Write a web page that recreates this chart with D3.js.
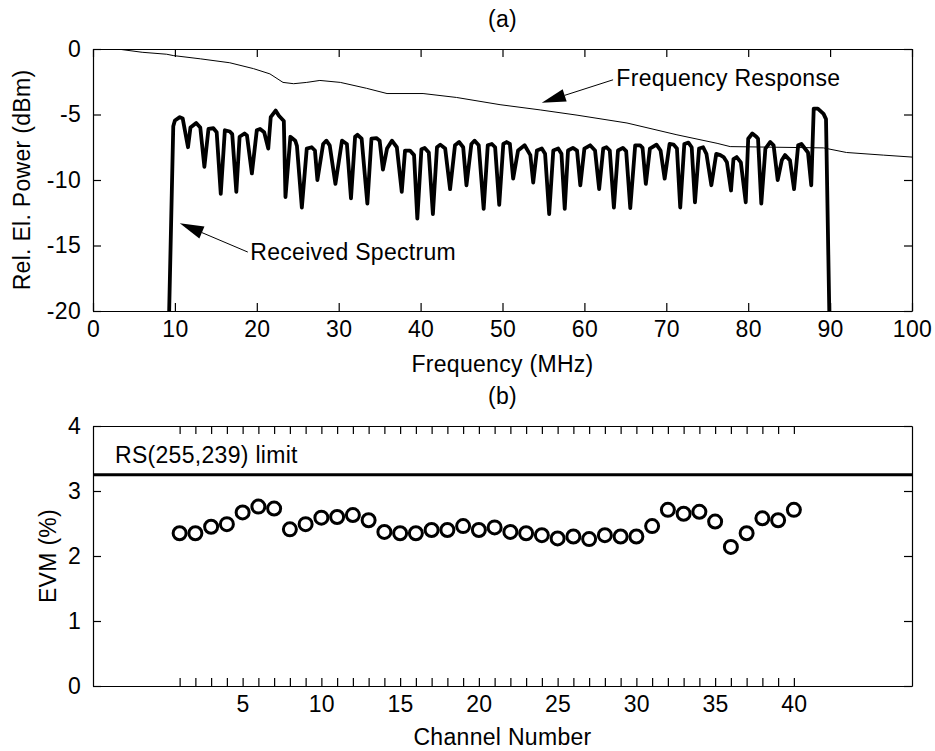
<!DOCTYPE html>
<html>
<head>
<meta charset="utf-8">
<script src="https://cdn.jsdelivr.net/npm/d3@7"></script>
<style>
  body { margin: 0; background: #fff; }
  svg text { font-family: "Liberation Sans", Arial, sans-serif; fill: #000; letter-spacing: 0.3px; }
</style>
</head>
<body>
<div id="chart"></div>
<script>
// (a) received spectrum: [frequency MHz, power dBm]
const spectrum = [
  [9.3,-20],[9.8,-5.9],[10.0,-5.46],[10.6,-5.2],[10.95,-5.3],[11.6,-7.5],[11.9,-6.0],[12.6,-5.65],
  [13.1,-6.0],[13.6,-9.0],[14.1,-6.1],[14.7,-6.05],[15.1,-6.35],[15.6,-11.05],[16.1,-6.2],[16.7,-6.3],
  [17.0,-6.5],[17.5,-10.9],[17.9,-6.7],[18.5,-6.45],[18.8,-6.6],[19.4,-9.5],[20.0,-6.2],[20.4,-6.1],
  [20.9,-6.35],[21.4,-7.6],[21.7,-5.2],[22.3,-4.7],[22.7,-5.1],[23.3,-5.5],[23.5,-11.3],[24.1,-6.7],
  [24.7,-7.0],[24.9,-7.4],[25.5,-12.1],[26.1,-7.6],[26.7,-7.5],[27.1,-7.75],[27.4,-10.0],[28.1,-7.25],
  [28.5,-7.0],[28.9,-7.35],[29.6,-10.3],[30.4,-7.0],[31.0,-7.25],[31.5,-11.4],[32.0,-6.7],[32.3,-6.55],
  [32.8,-6.85],[33.5,-11.8],[34.0,-6.85],[34.6,-6.8],[35.0,-7.0],[35.4,-9.2],[35.9,-7.6],[36.5,-7.0],
  [37.1,-7.5],[37.7,-10.9],[38.1,-7.75],[38.7,-7.75],[39.2,-8.1],[39.6,-12.95],[40.1,-7.65],[40.5,-7.55],
  [41.0,-7.9],[41.5,-12.6],[42.0,-7.5],[42.4,-7.3],[43.0,-7.6],[43.6,-10.7],[44.2,-7.35],[44.7,-7.1],
  [45.2,-7.5],[45.6,-10.4],[46.2,-7.25],[46.6,-7.0],[47.1,-7.35],[47.7,-12.2],[48.2,-7.35],[48.7,-7.25],
  [49.1,-7.5],[49.6,-11.9],[50.1,-7.25],[50.5,-7.1],[50.9,-7.25],[51.3,-9.9],[51.9,-7.75],[52.7,-7.35],
  [53.4,-8.1],[53.75,-10.2],[54.2,-7.75],[54.8,-7.6],[55.2,-8.0],[55.7,-12.6],[56.2,-7.75],[56.8,-7.6],
  [57.2,-8.0],[57.6,-12.2],[58.0,-7.75],[58.6,-7.55],[59.1,-7.75],[59.5,-10.4],[60.0,-7.6],[60.7,-7.35],
  [61.3,-7.75],[61.8,-10.7],[62.3,-7.6],[62.7,-7.5],[63.1,-7.75],[63.6,-12.1],[64.1,-7.75],[64.7,-7.55],
  [65.1,-7.8],[65.6,-12.15],[66.2,-7.35],[66.8,-7.35],[67.1,-7.55],[67.5,-10.3],[68.0,-7.6],[68.8,-7.3],
  [69.3,-7.75],[69.8,-9.9],[70.4,-7.25],[70.9,-7.3],[71.3,-7.6],[71.7,-12.1],[72.2,-7.25],[72.7,-7.15],
  [73.1,-7.5],[73.5,-11.7],[74.0,-7.6],[74.5,-7.5],[74.9,-8.0],[75.5,-10.4],[76.1,-8.0],[76.6,-8.1],
  [77.0,-8.25],[77.4,-8.65],[77.9,-10.8],[78.2,-8.4],[78.6,-8.25],[79.1,-8.65],[79.7,-11.7],[80.0,-6.85],
  [80.5,-6.45],[81.0,-6.7],[81.2,-6.85],[81.6,-11.8],[82.1,-7.6],[82.7,-7.1],[83.1,-7.35],[83.6,-10.0],
  [84.1,-8.5],[84.5,-8.1],[85.1,-8.5],[85.6,-10.7],[86.1,-7.35],[86.5,-7.25],[87.3,-7.9],[87.7,-10.4],
  [88.0,-4.55],[88.5,-4.55],[89.2,-4.95],[89.5,-5.35],[89.9,-20]
];

// (a) frequency response (thin line)
const response = [
  [3,0],[6,-0.25],[9,-0.4],[9.8,-0.5],[13.1,-0.75],[16.7,-1.05],[19.6,-1.5],[21.6,-1.9],
  [23.2,-2.55],[24.5,-2.65],[26.1,-2.55],[27.7,-2.4],[30.2,-2.55],[33.4,-3.0],[35.9,-3.4],[40.3,-3.4],
  [44.4,-3.7],[49.7,-4.25],[54.6,-4.65],[59.1,-5.05],[65.2,-5.65],[71.3,-6.55],[76.2,-7.2],[77.8,-7.45],
  [89.2,-7.55],[92,-7.9],[96.5,-8.1],[100,-8.25]
];

// (b) EVM per channel
const channels = d3.range(1, 41);
const evm = [
  2.35, 2.35, 2.45, 2.49, 2.67, 2.76, 2.73, 2.41, 2.49, 2.59,
  2.60, 2.63, 2.55, 2.37, 2.35, 2.35, 2.40, 2.40, 2.46, 2.40,
  2.44, 2.37, 2.35, 2.32, 2.27, 2.30, 2.26, 2.32, 2.30, 2.30,
  2.46, 2.71, 2.65, 2.68, 2.53, 2.14, 2.35, 2.58, 2.55, 2.71
];
const evmLimit = 3.25;

const freqTicks = d3.range(0, 101, 10);
const powerTicks = [0, -5, -10, -15, -20];
const evmTicks = [0, 1, 2, 3, 4];

const W = 935, H = 751;
const fontSize = "23px";

const svg = d3.select("#chart").append("svg")
  .attr("width", W)
  .attr("height", H);

// ---------- panel (a) ----------
const A = { left: 93, right: 912, top: 49, bottom: 311 };
const xA = d3.scaleLinear().domain([0, 100]).range([A.left, A.right]);
const yA = d3.scaleLinear().domain([-20, 0]).range([A.bottom, A.top]);

// ---------- panel (b) ----------
const B = { left: 93, right: 912, top: 426, bottom: 686 };
const xB = d3.scaleLinear().domain([-4.5, 47.5]).range([B.left, B.right]);
const yB = d3.scaleLinear().domain([0, 4]).range([B.bottom, B.top]);

function drawAxes(g, x, y, box, xTicks, xFmt, yTicks) {
  g.append("g")
    .attr("transform", `translate(0,${box.bottom})`)
    .call(d3.axisBottom(x).tickValues(xTicks).tickFormat(xFmt).tickSize(-8).tickSizeOuter(0).tickPadding(10));
  g.append("g")
    .attr("transform", `translate(0,${box.top})`)
    .call(d3.axisTop(x).tickValues(xTicks).tickFormat("").tickSize(-8).tickSizeOuter(0));
  g.append("g")
    .attr("transform", `translate(${box.left},0)`)
    .call(d3.axisLeft(y).tickValues(yTicks).tickFormat(d => String(d)).tickSize(-8).tickSizeOuter(0).tickPadding(12));
  g.append("g")
    .attr("transform", `translate(${box.right},0)`)
    .call(d3.axisRight(y).tickValues(yTicks).tickFormat("").tickSize(-8).tickSizeOuter(0));

  g.selectAll(".tick text")
    .style("font-size", fontSize)
    .attr("fill", "#000");
  g.selectAll(".domain, .tick line")
    .attr("stroke", "#000")
    .attr("stroke-width", 1.2);
}

const gA = svg.append("g");
const gB = svg.append("g");

// clip for panel (a)
svg.append("defs").append("clipPath").attr("id", "clipA")
  .append("rect")
  .attr("x", A.left).attr("y", A.top)
  .attr("width", A.right - A.left).attr("height", A.bottom - A.top);

const line = d3.line().x(d => xA(d[0])).y(d => yA(d[1]));

gA.append("path")
  .datum(response)
  .attr("clip-path", "url(#clipA)")
  .attr("fill", "none")
  .attr("stroke", "#000")
  .attr("stroke-width", 1)
  .attr("d", line);

gA.append("path")
  .datum(spectrum)
  .attr("clip-path", "url(#clipA)")
  .attr("fill", "none")
  .attr("stroke", "#000")
  .attr("stroke-width", 3.8)
  .attr("stroke-linejoin", "round")
  .attr("d", line);

drawAxes(gA, xA, yA, A, freqTicks, d => String(d), powerTicks);

// annotations with arrows
function arrow(g, x1, y1, x2, y2) {
  const ang = Math.atan2(y2 - y1, x2 - x1);
  const len = 24, half = 6.5;
  const bx = x2 - len * Math.cos(ang), by = y2 - len * Math.sin(ang);
  g.append("line")
    .attr("x1", x1).attr("y1", y1).attr("x2", bx).attr("y2", by)
    .attr("stroke", "#000").attr("stroke-width", 1);
  g.append("path")
    .attr("d", `M${x2},${y2}L${bx - half * Math.sin(ang)},${by + half * Math.cos(ang)}L${bx + half * Math.sin(ang)},${by - half * Math.cos(ang)}Z`)
    .attr("fill", "#000");
}

gA.append("text")
  .attr("x", xA(19.2)).attr("y", yA(-16.1))
  .style("font-size", fontSize)
  .text("Received Spectrum");
arrow(gA, xA(18.9), yA(-15.5), xA(10.6), yA(-13.3));

gA.append("text")
  .attr("x", xA(63.9)).attr("y", yA(-2.8))
  .style("font-size", fontSize)
  .text("Frequency Response");
arrow(gA, xA(63.5), yA(-2.35), xA(54.8), yA(-4.1));

// titles and labels
svg.append("text")
  .attr("x", (A.left + A.right) / 2).attr("y", 27)
  .attr("text-anchor", "middle")
  .style("font-size", fontSize)
  .text("(a)");

svg.append("text")
  .attr("x", (A.left + A.right) / 2).attr("y", 372)
  .attr("text-anchor", "middle")
  .style("font-size", fontSize)
  .text("Frequency (MHz)");

svg.append("text")
  .attr("transform", `translate(30,${(A.top + A.bottom) / 2}) rotate(-90)`)
  .attr("text-anchor", "middle")
  .style("font-size", fontSize)
  .text("Rel. El. Power (dBm)");

// ---------- panel (b) marks ----------
gB.append("line")
  .attr("x1", B.left).attr("x2", B.right)
  .attr("y1", yB(evmLimit)).attr("y2", yB(evmLimit))
  .attr("stroke", "#000")
  .attr("stroke-width", 3);

gB.append("text")
  .attr("x", B.left + 22).attr("y", yB(evmLimit) - 12)
  .style("font-size", fontSize)
  .text("RS(255,239) limit");

gB.selectAll(".pt")
  .data(channels)
  .enter()
  .append("circle")
  .attr("class", "pt")
  .attr("cx", d => xB(d))
  .attr("cy", (d, i) => yB(evm[i]))
  .attr("r", 6.5)
  .attr("fill", "none")
  .attr("stroke", "#000")
  .attr("stroke-width", 3);

drawAxes(gB, xB, yB, B, channels, d => (d % 5 === 0 ? String(d) : ""), evmTicks);

svg.append("text")
  .attr("x", (B.left + B.right) / 2).attr("y", 404)
  .attr("text-anchor", "middle")
  .style("font-size", fontSize)
  .text("(b)");

svg.append("text")
  .attr("x", (B.left + B.right) / 2).attr("y", 745)
  .attr("text-anchor", "middle")
  .style("font-size", fontSize)
  .text("Channel Number");

svg.append("text")
  .attr("transform", `translate(56,${(B.top + B.bottom) / 2}) rotate(-90)`)
  .attr("text-anchor", "middle")
  .style("font-size", fontSize)
  .text("EVM (%)");
</script>
</body>
</html>
